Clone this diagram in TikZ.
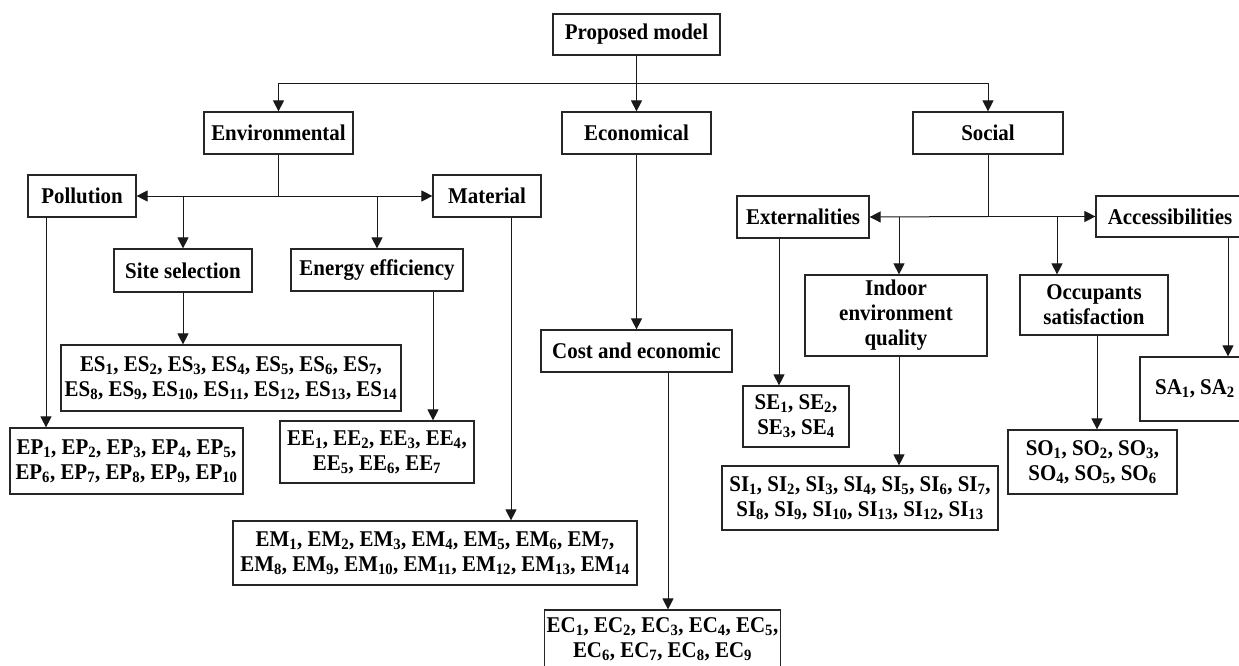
\documentclass[tikz,border=0pt]{standalone}
\usepackage{fontspec}
\setmainfont[FakeStretch=0.93]{Liberation Serif}
\usetikzlibrary{arrows.meta}
\newcommand\sbs[1]{\textsubscript{#1}}
\begin{document}
\begin{tikzpicture}[x=1pt,y=-1pt,
  box/.style={draw=black!85,line width=1.2pt,inner sep=2pt,align=center,
    font=\bfseries\fontsize{22.5}{25}\selectfont},
  conn/.style={draw=black!90,line width=1pt},
  arr/.style={conn,-{Triangle[length=11pt,width=11pt]}}]
\useasboundingbox[fill=white] (0,0) rectangle (1239,666);
% level 0-1
\node[box,minimum width=167pt,minimum height=41pt] (prop) at (636.5,34.5) {Proposed model};
\node[box,minimum width=149pt,minimum height=42pt] (env) at (278.5,133) {Environmental};
\node[box,minimum width=149pt,minimum height=42pt] (econ) at (636.5,133) {Economical};
\node[box,minimum width=150pt,minimum height=42pt] (soc) at (988,133) {Social};
% environmental
\node[box,minimum width=108pt,minimum height=42pt] (poll) at (82,196) {Pollution};
\node[box,minimum width=108pt,minimum height=42pt] (mat) at (487,196) {Material};
\node[box,minimum width=138pt,minimum height=43pt] (site) at (183,270.5) {Site selection};
\node[box,minimum width=172pt,minimum height=42pt] (energy) at (377,270) {Energy efficiency};
\node[box,minimum width=340pt,minimum height=66pt] (es) at (231,378)
  {ES\sbs{1}, ES\sbs{2}, ES\sbs{3}, ES\sbs{4}, ES\sbs{5}, ES\sbs{6}, ES\sbs{7},\\
   ES\sbs{8}, ES\sbs{9}, ES\sbs{10}, ES\sbs{11}, ES\sbs{12}, ES\sbs{13}, ES\sbs{14}};
\node[box,minimum width=194pt,minimum height=62pt] (ee) at (377,452)
  {EE\sbs{1}, EE\sbs{2}, EE\sbs{3}, EE\sbs{4},\\ EE\sbs{5}, EE\sbs{6}, EE\sbs{7}};
\node[box,minimum width=233pt,minimum height=66pt] (ep) at (126.5,461)
  {EP\sbs{1}, EP\sbs{2}, EP\sbs{3}, EP\sbs{4}, EP\sbs{5},\\
   EP\sbs{6}, EP\sbs{7}, EP\sbs{8}, EP\sbs{9}, EP\sbs{10}};
\node[box,minimum width=404pt,minimum height=64pt] (em) at (435,553)
  {EM\sbs{1}, EM\sbs{2}, EM\sbs{3}, EM\sbs{4}, EM\sbs{5}, EM\sbs{6}, EM\sbs{7},\\
   EM\sbs{8}, EM\sbs{9}, EM\sbs{10}, EM\sbs{11}, EM\sbs{12}, EM\sbs{13}, EM\sbs{14}};
% economical
\node[box,minimum width=191pt,minimum height=42pt] (cost) at (636.5,351) {Cost and economic};
\node[box,minimum width=231pt,minimum height=58pt] (ec) at (662.5,639)
  {EC\sbs{1}, EC\sbs{2}, EC\sbs{3}, EC\sbs{4}, EC\sbs{5},\\
   EC\sbs{6}, EC\sbs{7}, EC\sbs{8}, EC\sbs{9}};
% social
\node[box,minimum width=132pt,minimum height=42pt] (ext) at (803,217) {Externalities};
\node[box,minimum width=148pt,minimum height=41pt] (acc) at (1170,216.5) {Accessibilities};
\node[box,minimum width=182pt,minimum height=81pt] (indoor) at (896,315.5)
  {Indoor\\ environment\\ quality};
\node[box,minimum width=148pt,minimum height=60pt] (occ) at (1094,305)
  {Occupants\\ satisfaction};
\node[box,minimum width=106pt,minimum height=61pt] (se) at (796,416.5)
  {SE\sbs{1}, SE\sbs{2},\\ SE\sbs{3}, SE\sbs{4}};
\node[box,minimum width=276pt,minimum height=64pt] (si) at (860,498)
  {SI\sbs{1}, SI\sbs{2}, SI\sbs{3}, SI\sbs{4}, SI\sbs{5}, SI\sbs{6}, SI\sbs{7},\\
   SI\sbs{8}, SI\sbs{9}, SI\sbs{10}, SI\sbs{13}, SI\sbs{12}, SI\sbs{13}};
\node[box,minimum width=169pt,minimum height=64pt] (so) at (1092.5,462)
  {SO\sbs{1}, SO\sbs{2}, SO\sbs{3},\\ SO\sbs{4}, SO\sbs{5}, SO\sbs{6}};
\node[box,minimum width=110pt,minimum height=64pt] (sa) at (1195,389)
  {SA\sbs{1}, SA\sbs{2}};
% junction coordinates
\coordinate (jtop) at (636.5,84);
\coordinate (jenv) at (278.5,196);
\coordinate (jsoc) at (988,216.5);
\coordinate (xee) at (433,0);
\coordinate (xep) at (46,0);
\coordinate (xem) at (511,0);
\coordinate (xec) at (668,0);
\coordinate (xse) at (779,0);
\coordinate (xsi) at (899,0);
\coordinate (xocc) at (1057,0);
\coordinate (xso) at (1097,0);
\coordinate (xsa) at (1228,0);
% top level
\draw[arr] (prop.south) -- (econ.north);
\draw[arr] (jtop) -| (env.north);
\draw[arr] (jtop) -| (soc.north);
% environmental
\draw[conn] (env.south) -- (jenv);
\draw[arr] (jenv) -- (poll.east);
\draw[arr] (jenv) -- (mat.west);
\draw[arr] (jenv -| site.north) -- (site.north);
\draw[arr] (jenv -| energy.north) -- (energy.north);
\draw[arr] (site.south) -- (site.south |- es.north);
\draw[arr] (energy.south -| xee) -- (ee.north -| xee);
\draw[arr] (poll.south -| xep) -- (ep.north -| xep);
\draw[arr] (mat.south -| xem) -- (em.north -| xem);
% economical
\draw[arr] (econ.south) -- (cost.north);
\draw[arr] (cost.south -| xec) -- (ec.north -| xec);
% social
\draw[conn] (soc.south) -- (jsoc);
\draw[arr] (jsoc) -- (ext.east);
\draw[arr] (jsoc) -- (acc.west);
\draw[arr] (jsoc -| xsi) -- (indoor.north -| xsi);
\draw[arr] (jsoc -| xocc) -- (occ.north -| xocc);
\draw[arr] (ext.south -| xse) -- (se.north -| xse);
\draw[arr] (indoor.south -| xsi) -- (si.north -| xsi);
\draw[arr] (occ.south -| xso) -- (so.north -| xso);
\draw[arr] (acc.south -| xsa) -- (sa.north -| xsa);
\end{tikzpicture}
\end{document}
